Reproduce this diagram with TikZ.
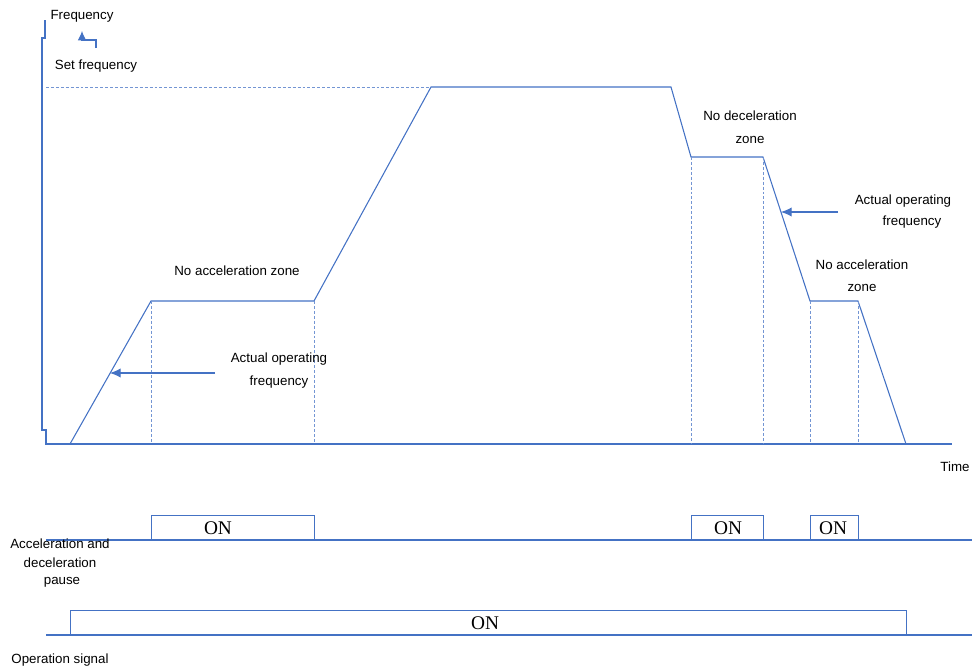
\documentclass[tikz,border=0pt]{standalone}
\usepackage{fontspec}
\setmainfont{Liberation Sans}
\newfontfamily\tnr{Liberation Serif}
\usetikzlibrary{arrows.meta}
\definecolor{ln}{HTML}{4472C4}
\begin{document}
\begin{tikzpicture}[x=0.75pt,y=-0.75pt,
  line/.style={draw=ln, line width=0.8pt},
  guide/.style={draw=ln!75, line width=0.7pt, dash pattern=on 2.2pt off 1.5pt},
  lbl/.style={font=\fontsize{10}{12}\selectfont, inner sep=0pt, text=black},
  onbox/.style={draw=ln, line width=0.8pt, inner sep=0pt, anchor=south west,
     minimum height=18pt},
  ontxt/.style={font=\tnr\fontsize{14.5}{16}\selectfont, inner sep=0pt},
  ptr/.style={draw=ln, line width=0.8pt, -{Latex[length=8pt,width=7pt]}}]
\useasboundingbox (0,0) rectangle (972,668);

% axes
\draw[line] (45,20) -- (45,38) -- (42,38) -- (42,430) -- (46,430) -- (46,444) -- (952,444);
\coordinate (ax1) at (96,48);
\coordinate (ax2) at (82,31);
\draw[line, -{Latex[length=7pt,width=6.5pt]}] (ax1) |- (82,40) -- (ax2);
\node[lbl] (freq) at (82,16) {Frequency};
\node[lbl] (setf) at (96,66) {Set frequency};
\node[lbl] (time) at (955,467) {Time};

% set frequency level
\draw[guide] (46,87) -- (430,87);

% frequency curve
\coordinate (p0) at (70,444);
\coordinate (p1) at (151,301);
\coordinate (p2) at (314,301);
\coordinate (p3) at (431,87);
\coordinate (p4) at (671,87);
\coordinate (p5) at (691,157);
\coordinate (p6) at (763,157);
\coordinate (p7) at (810,301);
\coordinate (p8) at (858,301);
\coordinate (p9) at (906,444);
\draw[line] (p0) -- (p1) -- (p2) -- (p3) -- (p4) -- (p5) -- (p6) -- (p7) -- (p8) -- (p9);
\foreach \p in {p1,p2,p5,p6,p7,p8}
  \draw[guide] (\p) -- (\p |- p0);

% labels on curve
\node[lbl] (naz1) at (237,271) {No acceleration zone};
\node[lbl] (aof1) at (279,359) {Actual operating};
\node[lbl] (aof1b) at (279,382) {frequency};
\node[lbl] (ndz) at (750,116) {No deceleration};
\node[lbl] (ndzb) at (750,140) {zone};
\node[lbl] (aof2) at (903,201) {Actual operating};
\node[lbl] (aof2b) at (912,222) {frequency};
\node[lbl] (naz2) at (862,265) {No acceleration};
\node[lbl] (naz2b) at (862,288) {zone};

\coordinate (a1s) at (215,373);
\coordinate (a1e) at (110,373);
\draw[ptr] (a1s) -- (a1e);
\coordinate (a2s) at (838,212);
\coordinate (a2e) at (781,212);
\draw[ptr] (a2s) -- (a2e);

% acceleration / deceleration pause signal
\draw[line] (46,540) -- (972,540);
\node[onbox, minimum width=122.25pt] (on1) at (151,540) {};
\node[ontxt] (on1t) at (218,528) {ON};
\node[onbox, minimum width=54pt] (on2) at (691,540) {};
\node[ontxt] (on2t) at (728,528) {ON};
\node[onbox, minimum width=36pt] (on3) at (810,540) {};
\node[ontxt] (on3t) at (833,528) {ON};
\node[lbl] (adp1) at (60,544) {Acceleration and};
\node[lbl] (adp2) at (60,563) {deceleration};
\node[lbl] (adp3) at (62,582) {pause};

% operation signal
\draw[line] (46,635) -- (972,635);
\node[onbox, minimum width=627pt] (on4) at (70,635) {};
\node[ontxt] (on4t) at (485,623) {ON};
\node[lbl] (ops) at (60,660) {Operation signal};
\end{tikzpicture}
\end{document}
